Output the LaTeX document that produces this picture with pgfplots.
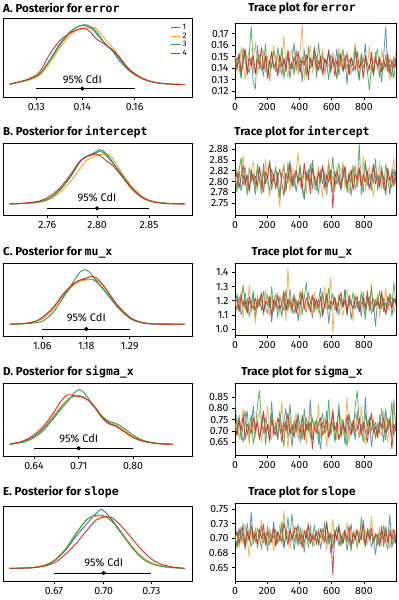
\documentclass[border=0pt]{standalone}
\usepackage{fontspec}
\setmainfont{Fira Sans}
\setmonofont{DejaVu Sans Mono}
\usepackage{pgfplots}
\usepackage{pgfplotstable}
\pgfplotsset{compat=1.18}

\definecolor{c1}{RGB}{44,122,168}
\definecolor{c2}{RGB}{247,160,40}
\definecolor{c3}{RGB}{45,160,60}
\definecolor{c4}{RGB}{220,40,35}

% ---------- trace data (one table per chain) ----------
\pgfplotstableread[row sep=\\]{y\\
0.145\\0.138\\0.152\\0.131\\0.149\\0.157\\0.141\\0.136\\0.150\\0.127\\
0.122\\0.160\\0.139\\0.144\\0.133\\0.151\\0.148\\0.129\\0.155\\0.142\\
0.137\\0.158\\0.146\\0.134\\0.149\\0.140\\0.153\\0.131\\0.147\\0.162\\
0.138\\0.143\\0.150\\0.128\\0.156\\0.141\\0.135\\0.148\\0.144\\0.159\\
0.132\\0.147\\0.139\\0.153\\0.136\\0.145\\0.130\\0.151\\0.149\\0.141\\
0.157\\0.134\\0.146\\0.138\\0.152\\0.126\\0.148\\0.143\\0.137\\0.155\\
0.140\\0.131\\0.150\\0.146\\0.161\\0.135\\0.142\\0.149\\0.133\\0.154\\
0.139\\0.147\\0.128\\0.151\\0.176\\0.137\\0.144\\0.132\\0.150\\0.141\\
}\tAa
\pgfplotstableread[row sep=\\]{y\\
0.152\\0.141\\0.136\\0.158\\0.144\\0.130\\0.149\\0.155\\0.139\\0.147\\
0.163\\0.134\\0.148\\0.142\\0.156\\0.137\\0.151\\0.129\\0.145\\0.160\\
0.140\\0.153\\0.135\\0.147\\0.168\\0.143\\0.132\\0.150\\0.157\\0.138\\
0.146\\0.134\\0.155\\0.178\\0.129\\0.152\\0.148\\0.160\\0.136\\0.144\\
0.151\\0.139\\0.145\\0.157\\0.133\\0.148\\0.142\\0.136\\0.154\\0.147\\
0.130\\0.158\\0.141\\0.149\\0.138\\0.155\\0.143\\0.134\\0.150\\0.162\\
0.137\\0.145\\0.152\\0.131\\0.148\\0.141\\0.159\\0.136\\0.146\\0.153\\
0.140\\0.133\\0.156\\0.145\\0.138\\0.151\\0.129\\0.148\\0.142\\0.155\\
}\tAb
\pgfplotstableread[row sep=\\]{y\\
0.139\\0.150\\0.143\\0.132\\0.158\\0.146\\0.137\\0.153\\0.176\\0.141\\
0.135\\0.148\\0.152\\0.138\\0.144\\0.161\\0.133\\0.147\\0.140\\0.155\\
0.149\\0.136\\0.143\\0.158\\0.131\\0.146\\0.152\\0.139\\0.145\\0.134\\
0.156\\0.142\\0.137\\0.150\\0.147\\0.133\\0.159\\0.140\\0.144\\0.151\\
0.138\\0.162\\0.145\\0.134\\0.149\\0.141\\0.155\\0.136\\0.148\\0.143\\
0.131\\0.152\\0.146\\0.157\\0.139\\0.144\\0.135\\0.150\\0.142\\0.158\\
0.146\\0.129\\0.153\\0.140\\0.148\\0.137\\0.121\\0.143\\0.134\\0.150\\
0.157\\0.132\\0.145\\0.139\\0.152\\0.136\\0.148\\0.144\\0.131\\0.147\\
}\tAc
\pgfplotstableread[row sep=\\]{y\\
0.148\\0.140\\0.153\\0.137\\0.145\\0.156\\0.134\\0.149\\0.142\\0.151\\
0.136\\0.147\\0.143\\0.158\\0.139\\0.150\\0.131\\0.146\\0.154\\0.140\\
0.145\\0.133\\0.152\\0.141\\0.148\\0.137\\0.156\\0.144\\0.139\\0.150\\
0.142\\0.155\\0.136\\0.147\\0.143\\0.152\\0.130\\0.149\\0.141\\0.157\\
0.146\\0.138\\0.151\\0.135\\0.148\\0.144\\0.156\\0.139\\0.150\\0.133\\
0.147\\0.141\\0.153\\0.137\\0.145\\0.152\\0.134\\0.149\\0.143\\0.138\\
0.155\\0.140\\0.146\\0.132\\0.151\\0.144\\0.139\\0.154\\0.136\\0.148\\
0.142\\0.150\\0.137\\0.147\\0.141\\0.153\\0.135\\0.146\\0.140\\0.149\\
}\tAd

\pgfplotstableread[row sep=\\]{y\\
2.812\\2.789\\2.825\\2.778\\2.806\\2.834\\2.795\\2.781\\2.818\\2.801\\
2.770\\2.827\\2.809\\2.786\\2.842\\2.797\\2.815\\2.773\\2.830\\2.804\\
2.791\\2.822\\2.768\\2.811\\2.836\\2.784\\2.805\\2.849\\2.793\\2.817\\
2.776\\2.808\\2.831\\2.790\\2.765\\2.823\\2.799\\2.840\\2.782\\2.813\\
2.804\\2.771\\2.828\\2.795\\2.819\\2.787\\2.845\\2.801\\2.774\\2.826\\
2.793\\2.816\\2.779\\2.838\\2.802\\2.785\\2.821\\2.767\\2.810\\2.833\\
2.788\\2.824\\2.798\\2.775\\2.841\\2.806\\2.783\\2.819\\2.796\\2.852\\
2.780\\2.811\\2.835\\2.792\\2.769\\2.825\\2.803\\2.786\\2.829\\2.797\\
}\tBa
\pgfplotstableread[row sep=\\]{y\\
2.795\\2.831\\2.784\\2.818\\2.862\\2.790\\2.809\\2.773\\2.826\\2.846\\
2.801\\2.779\\2.837\\2.812\\2.788\\2.853\\2.796\\2.766\\2.820\\2.807\\
2.829\\2.785\\2.742\\2.815\\2.842\\2.793\\2.810\\2.777\\2.834\\2.800\\
2.822\\2.869\\2.787\\2.805\\2.838\\2.772\\2.816\\2.794\\2.847\\2.781\\
2.811\\2.836\\2.798\\2.763\\2.824\\2.808\\2.851\\2.789\\2.815\\2.776\\
2.833\\2.792\\2.819\\2.845\\2.785\\2.806\\2.771\\2.828\\2.799\\2.840\\
2.786\\2.817\\2.803\\2.858\\2.779\\2.812\\2.835\\2.794\\2.766\\2.823\\
2.807\\2.845\\2.783\\2.814\\2.797\\2.831\\2.770\\2.818\\2.855\\2.790\\
}\tBb
\pgfplotstableread[row sep=\\]{y\\
2.808\\2.776\\2.826\\2.855\\2.791\\2.814\\2.768\\2.833\\2.799\\2.819\\
2.785\\2.840\\2.803\\2.772\\2.827\\2.794\\2.812\\2.848\\2.781\\2.809\\
2.835\\2.790\\2.762\\2.821\\2.806\\2.775\\2.844\\2.798\\2.816\\2.787\\
2.824\\2.801\\2.839\\2.781\\2.758\\2.813\\2.829\\2.792\\2.850\\2.805\\
2.778\\2.820\\2.797\\2.836\\2.810\\2.769\\2.825\\2.803\\2.857\\2.789\\
2.814\\2.843\\2.786\\2.807\\2.831\\2.774\\2.819\\2.796\\2.838\\2.782\\
2.801\\2.887\\2.769\\2.812\\2.848\\2.791\\2.817\\2.779\\2.834\\2.808\\
2.818\\2.795\\2.822\\2.783\\2.840\\2.806\\2.771\\2.829\\2.800\\2.816\\
}\tBc
\pgfplotstableread[row sep=\\]{y\\
2.799\\2.821\\2.785\\2.810\\2.838\\2.792\\2.816\\2.778\\2.827\\2.804\\
2.813\\2.789\\2.834\\2.801\\2.775\\2.823\\2.807\\2.846\\2.794\\2.818\\
2.783\\2.812\\2.829\\2.796\\2.768\\2.820\\2.805\\2.839\\2.788\\2.815\\
2.826\\2.797\\2.810\\2.781\\2.843\\2.803\\2.819\\2.772\\2.831\\2.808\\
2.791\\2.824\\2.806\\2.837\\2.784\\2.815\\2.798\\2.828\\2.738\\2.811\\
2.822\\2.800\\2.785\\2.814\\2.836\\2.793\\2.809\\2.827\\2.780\\2.817\\
2.804\\2.833\\2.789\\2.816\\2.799\\2.825\\2.782\\2.811\\2.840\\2.795\\
2.812\\2.786\\2.824\\2.807\\2.779\\2.831\\2.801\\2.818\\2.790\\2.826\\
}\tBd

\pgfplotstableread[row sep=\\]{y\\
1.19\\1.14\\1.23\\1.10\\1.17\\1.26\\1.12\\1.20\\1.15\\1.24\\
1.08\\1.18\\1.22\\1.13\\1.27\\1.16\\1.11\\1.21\\1.05\\1.19\\
1.25\\1.14\\1.17\\1.09\\1.23\\1.20\\1.13\\1.28\\1.16\\1.11\\
1.21\\1.06\\1.18\\1.24\\1.15\\1.12\\1.26\\1.19\\1.08\\1.22\\
1.14\\1.20\\1.29\\1.11\\1.17\\1.23\\1.04\\1.18\\1.25\\1.13\\
1.19\\1.10\\1.22\\1.16\\1.28\\1.12\\1.21\\1.07\\1.17\\1.24\\
1.15\\1.20\\1.09\\1.26\\1.13\\1.19\\1.23\\1.11\\1.18\\1.02\\
1.22\\1.16\\1.27\\1.12\\1.19\\1.14\\1.25\\1.09\\1.21\\1.17\\
}\tCa
\pgfplotstableread[row sep=\\]{y\\
1.22\\1.13\\1.17\\1.27\\1.08\\1.20\\1.15\\1.31\\1.11\\1.19\\
1.04\\1.24\\1.16\\1.21\\1.12\\1.28\\1.18\\1.09\\1.23\\1.14\\
1.20\\1.26\\1.11\\1.17\\1.25\\1.06\\1.43\\1.13\\1.22\\1.16\\
1.15\\1.21\\1.08\\1.29\\1.17\\1.12\\1.24\\1.19\\1.10\\1.26\\
1.18\\1.11\\1.23\\1.16\\1.30\\1.14\\1.20\\1.37\\0.97\\1.22\\
1.13\\1.25\\1.17\\1.09\\1.21\\1.28\\1.15\\1.19\\1.06\\1.24\\
1.20\\1.14\\1.27\\1.18\\1.10\\1.23\\1.16\\1.32\\1.12\\1.19\\
1.25\\1.08\\1.21\\1.15\\1.29\\1.13\\1.18\\1.24\\1.11\\1.20\\
}\tCb
\pgfplotstableread[row sep=\\]{y\\
1.16\\1.25\\1.12\\1.20\\1.31\\1.14\\1.22\\1.09\\1.18\\1.27\\
1.13\\1.21\\1.17\\1.26\\1.10\\1.19\\1.24\\1.15\\1.30\\1.12\\
1.20\\1.08\\1.23\\1.17\\1.13\\1.28\\1.16\\1.21\\1.11\\1.25\\
1.18\\1.14\\1.27\\1.10\\1.22\\1.33\\1.15\\1.19\\1.24\\1.12\\
1.21\\1.17\\1.08\\1.26\\1.14\\1.20\\1.29\\1.13\\1.18\\1.23\\
1.11\\1.24\\1.19\\1.15\\1.28\\1.09\\1.22\\1.17\\1.26\\1.14\\
1.20\\1.13\\1.25\\1.18\\1.07\\1.23\\1.16\\1.30\\1.12\\1.21\\
1.17\\1.27\\1.14\\1.22\\1.10\\1.19\\1.25\\1.15\\1.33\\1.18\\
}\tCc
\pgfplotstableread[row sep=\\]{y\\
1.18\\1.21\\1.13\\1.24\\1.16\\1.20\\1.11\\1.23\\1.17\\1.14\\
1.22\\1.15\\1.19\\1.25\\1.12\\1.20\\1.17\\1.23\\1.10\\1.21\\
1.16\\1.24\\1.14\\1.19\\1.27\\1.13\\1.21\\1.18\\1.15\\1.23\\
1.11\\1.20\\1.17\\1.26\\1.14\\1.22\\1.19\\1.12\\1.24\\1.16\\
1.21\\1.15\\1.23\\1.09\\1.18\\1.25\\1.14\\1.20\\1.17\\1.22\\
1.13\\1.19\\1.26\\1.16\\1.21\\1.11\\1.24\\1.18\\1.15\\1.20\\
1.23\\1.12\\1.18\\1.22\\1.15\\1.27\\1.13\\1.19\\1.21\\1.16\\
1.20\\1.14\\1.25\\1.17\\1.11\\1.23\\1.19\\1.15\\1.22\\1.18\\
}\tCd

\pgfplotstableread[row sep=\\]{y\\
0.74\\0.68\\0.77\\0.70\\0.65\\0.73\\0.79\\0.67\\0.72\\0.81\\
0.69\\0.75\\0.66\\0.71\\0.78\\0.64\\0.73\\0.70\\0.83\\0.68\\
0.72\\0.66\\0.76\\0.69\\0.74\\0.80\\0.67\\0.71\\0.63\\0.75\\
0.70\\0.78\\0.65\\0.73\\0.68\\0.76\\0.71\\0.84\\0.66\\0.72\\
0.75\\0.69\\0.62\\0.74\\0.70\\0.79\\0.67\\0.73\\0.77\\0.65\\
0.71\\0.82\\0.68\\0.75\\0.64\\0.72\\0.78\\0.69\\0.74\\0.66\\
0.79\\0.67\\0.73\\0.70\\0.85\\0.68\\0.76\\0.63\\0.71\\0.74\\
0.68\\0.77\\0.72\\0.65\\0.80\\0.70\\0.75\\0.67\\0.84\\0.71\\
}\tDa
\pgfplotstableread[row sep=\\]{y\\
0.70\\0.76\\0.66\\0.73\\0.80\\0.68\\0.71\\0.64\\0.77\\0.72\\
0.67\\0.74\\0.79\\0.65\\0.72\\0.69\\0.81\\0.70\\0.66\\0.75\\
0.73\\0.68\\0.71\\0.83\\0.67\\0.74\\0.62\\0.76\\0.70\\0.72\\
0.78\\0.66\\0.73\\0.69\\0.75\\0.64\\0.71\\0.79\\0.68\\0.74\\
0.70\\0.82\\0.67\\0.72\\0.76\\0.63\\0.74\\0.69\\0.80\\0.71\\
0.66\\0.73\\0.77\\0.68\\0.71\\0.85\\0.65\\0.74\\0.70\\0.78\\
0.72\\0.67\\0.81\\0.70\\0.64\\0.75\\0.69\\0.77\\0.73\\0.66\\
0.74\\0.70\\0.68\\0.79\\0.72\\0.65\\0.76\\0.71\\0.82\\0.69\\
}\tDb
\pgfplotstableread[row sep=\\]{y\\
0.86\\0.70\\0.75\\0.66\\0.73\\0.79\\0.68\\0.72\\0.77\\0.64\\
0.71\\0.81\\0.88\\0.74\\0.69\\0.76\\0.72\\0.65\\0.78\\0.70\\
0.74\\0.67\\0.79\\0.71\\0.63\\0.75\\0.70\\0.82\\0.68\\0.73\\
0.69\\0.77\\0.72\\0.66\\0.80\\0.70\\0.74\\0.67\\0.76\\0.71\\
0.75\\0.64\\0.73\\0.78\\0.69\\0.71\\0.84\\0.68\\0.74\\0.66\\
0.72\\0.79\\0.67\\0.75\\0.70\\0.63\\0.77\\0.73\\0.69\\0.81\\
0.88\\0.74\\0.71\\0.65\\0.78\\0.72\\0.76\\0.70\\0.75\\0.67\\
0.73\\0.69\\0.80\\0.71\\0.66\\0.76\\0.72\\0.83\\0.68\\0.74\\
}\tDc
\pgfplotstableread[row sep=\\]{y\\
0.72\\0.68\\0.75\\0.70\\0.77\\0.66\\0.73\\0.71\\0.69\\0.76\\
0.70\\0.74\\0.67\\0.72\\0.79\\0.69\\0.73\\0.66\\0.75\\0.71\\
0.68\\0.76\\0.72\\0.65\\0.74\\0.70\\0.78\\0.69\\0.73\\0.67\\
0.75\\0.71\\0.69\\0.77\\0.66\\0.73\\0.70\\0.74\\0.62\\0.72\\
0.69\\0.73\\0.76\\0.68\\0.71\\0.75\\0.67\\0.72\\0.79\\0.70\\
0.74\\0.66\\0.71\\0.73\\0.69\\0.77\\0.72\\0.68\\0.75\\0.70\\
0.71\\0.76\\0.68\\0.74\\0.70\\0.65\\0.73\\0.78\\0.69\\0.72\\
0.67\\0.74\\0.71\\0.76\\0.69\\0.72\\0.75\\0.62\\0.73\\0.70\\
}\tDd

\pgfplotstableread[row sep=\\]{y\\
0.705\\0.688\\0.718\\0.694\\0.726\\0.681\\0.709\\0.697\\0.745\\0.690\\
0.713\\0.684\\0.700\\0.722\\0.692\\0.707\\0.678\\0.716\\0.698\\0.729\\
0.687\\0.711\\0.695\\0.719\\0.683\\0.704\\0.736\\0.693\\0.710\\0.680\\
0.702\\0.724\\0.689\\0.708\\0.676\\0.715\\0.696\\0.721\\0.686\\0.706\\
0.694\\0.717\\0.682\\0.703\\0.727\\0.691\\0.712\\0.674\\0.708\\0.699\\
0.720\\0.687\\0.706\\0.693\\0.714\\0.679\\0.701\\0.725\\0.690\\0.709\\
0.683\\0.712\\0.697\\0.731\\0.688\\0.704\\0.716\\0.685\\0.699\\0.672\\
0.708\\0.693\\0.721\\0.686\\0.711\\0.698\\0.741\\0.684\\0.705\\0.695\\
}\tEa
\pgfplotstableread[row sep=\\]{y\\
0.696\\0.715\\0.683\\0.707\\0.690\\0.723\\0.701\\0.668\\0.712\\0.694\\
0.719\\0.687\\0.705\\0.731\\0.693\\0.710\\0.685\\0.716\\0.702\\0.679\\
0.708\\0.695\\0.724\\0.688\\0.748\\0.699\\0.713\\0.682\\0.706\\0.721\\
0.691\\0.711\\0.697\\0.717\\0.684\\0.703\\0.728\\0.692\\0.709\\0.686\\
0.714\\0.689\\0.706\\0.695\\0.720\\0.680\\0.712\\0.698\\0.733\\0.691\\
0.703\\0.718\\0.685\\0.709\\0.696\\0.727\\0.688\\0.711\\0.700\\0.716\\
0.684\\0.707\\0.722\\0.693\\0.714\\0.689\\0.704\\0.738\\0.695\\0.710\\
0.699\\0.720\\0.687\\0.712\\0.692\\0.706\\0.683\\0.717\\0.701\\0.694\\
}\tEb
\pgfplotstableread[row sep=\\]{y\\
0.702\\0.683\\0.714\\0.697\\0.709\\0.690\\0.726\\0.699\\0.686\\0.712\\
0.693\\0.718\\0.704\\0.681\\0.710\\0.696\\0.721\\0.688\\0.707\\0.700\\
0.716\\0.691\\0.703\\0.729\\0.685\\0.712\\0.698\\0.706\\0.742\\0.694\\
0.708\\0.687\\0.719\\0.700\\0.692\\0.713\\0.684\\0.709\\0.697\\0.723\\
0.689\\0.711\\0.701\\0.717\\0.695\\0.730\\0.690\\0.706\\0.682\\0.714\\
0.699\\0.724\\0.688\\0.707\\0.715\\0.693\\0.703\\0.678\\0.711\\0.696\\
0.713\\0.691\\0.736\\0.702\\0.685\\0.718\\0.697\\0.709\\0.692\\0.705\\
0.688\\0.710\\0.699\\0.722\\0.694\\0.681\\0.715\\0.703\\0.691\\0.708\\
}\tEc
\pgfplotstableread[row sep=\\]{y\\
0.698\\0.711\\0.690\\0.719\\0.702\\0.685\\0.713\\0.696\\0.722\\0.700\\
0.707\\0.691\\0.716\\0.699\\0.724\\0.688\\0.710\\0.703\\0.693\\0.718\\
0.686\\0.712\\0.701\\0.694\\0.727\\0.706\\0.689\\0.715\\0.698\\0.709\\
0.720\\0.695\\0.708\\0.684\\0.714\\0.700\\0.723\\0.691\\0.705\\0.697\\
0.712\\0.688\\0.717\\0.703\\0.693\\0.726\\0.699\\0.709\\0.637\\0.714\\
0.696\\0.719\\0.704\\0.690\\0.711\\0.698\\0.721\\0.687\\0.708\\0.701\\
0.715\\0.693\\0.706\\0.724\\0.689\\0.712\\0.700\\0.718\\0.694\\0.707\\
0.703\\0.686\\0.714\\0.697\\0.720\\0.692\\0.709\\0.699\\0.716\\0.690\\
}\tEd

\pgfplotsset{
  base/.style={scale only axis, anchor=south west,
    axis line style={line width=0.9pt}, tick align=outside,
    major tick length=3bp, tick style={black, line width=0.7pt},
    xtick pos=bottom,
    ticklabel style={font=\fontsize{10.5bp}{12bp}\selectfont},
    xticklabel style={yshift=-0.3bp}},
  leftp/.style={base, width=189bp, xmin=10, xmax=577, ytick=\empty,
    every axis plot/.append style={line width=0.9pt, smooth}},
  rightp/.style={base, width=161bp, xmin=0, xmax=999, ytick pos=left,
    xtick={0,200,400,600,800}, xticklabels={0,200,400,600,800},
    every axis plot/.append style={line width=0.8pt, opacity=0.8, line join=miter, miter limit=3}},
  ci/.style={black, line width=0.9pt},
}
\newcommand{\cdi}{\fontsize{11bp}{13bp}\selectfont 95\% CdI}
\newcommand{\ttl}{\fontsize{11.5bp}{13bp}\selectfont\bfseries}

\begin{document}
\begin{tikzpicture}
\useasboundingbox (0,0) rectangle (399bp,-600bp);

% ===== titles =====
\node[anchor=west, inner sep=0pt] at (3bp,-8bp) {\ttl A. Posterior for \texttt{error}};
\node[inner sep=0pt] at (302bp,-8bp) {\ttl Trace plot for \texttt{error}};
\node[anchor=west, inner sep=0pt] at (3bp,-132bp) {\ttl B. Posterior for \texttt{intercept}};
\node[inner sep=0pt] at (302bp,-132bp) {\ttl Trace plot for \texttt{intercept}};
\node[anchor=west, inner sep=0pt] at (3bp,-252bp) {\ttl C. Posterior for \texttt{mu\_x}};
\node[inner sep=0pt] at (302bp,-252bp) {\ttl Trace plot for \texttt{mu\_x}};
\node[anchor=west, inner sep=0pt] at (3bp,-372bp) {\ttl D. Posterior for \texttt{sigma\_x}};
\node[inner sep=0pt] at (302bp,-372bp) {\ttl Trace plot for \texttt{sigma\_x}};
\node[anchor=west, inner sep=0pt] at (3bp,-492bp) {\ttl E. Posterior for \texttt{slope}};
\node[inner sep=0pt] at (302bp,-492bp) {\ttl Trace plot for \texttt{slope}};

% ===== A left =====
\begin{axis}[leftp, at={(3bp,-97bp)}, height=79bp, ymin=-35, ymax=200,
  xtick={110,248,405}, xticklabels={0.13,0.14,0.16},
  legend style={at={(0.985,0.95)}, anchor=north east, draw=none, fill=none,
    font=\fontsize{8bp}{8.5bp}\selectfont, row sep=-2.4bp, inner sep=0pt,
    cells={anchor=west}},
  legend image code/.code={\draw[#1, line width=0.9pt] (0bp,0bp) -- (9bp,0bp);}]
\addplot[c1] coordinates {(30,3)(60,10)(90,18)(120,33)(150,75)(180,122)(210,158)(230,172)(245,178)(260,176)(280,165)(300,142)(320,120)(340,100)(360,72)(390,42)(420,23)(450,12)(480,6)(520,3)(555,2)};
\addplot[c2] coordinates {(30,3)(60,9)(90,16)(120,30)(150,65)(180,110)(210,148)(230,162)(250,168)(270,170)(285,172)(300,158)(320,132)(340,110)(360,82)(390,48)(420,26)(450,13)(480,6)(520,3)(555,2)};
\addplot[c3] coordinates {(30,3)(60,10)(90,18)(120,33)(150,72)(180,118)(210,156)(230,172)(255,180)(270,176)(290,160)(310,132)(330,110)(350,92)(370,65)(390,45)(420,24)(450,12)(480,6)(520,3)(555,2)};
\addplot[c4] coordinates {(30,3)(60,10)(90,20)(120,40)(150,92)(180,132)(200,148)(220,160)(240,168)(255,170)(270,160)(290,138)(310,125)(330,112)(350,95)(370,70)(390,45)(420,24)(450,12)(480,6)(520,3)(555,2)};
\legend{1,2,3,4}
\addplot[ci, forget plot, sharp plot] coordinates {(110,-10)(405,-10)};
\addplot[only marks, mark=*, mark size=1.6pt, black, forget plot] coordinates {(248,-10)};
\node at (axis cs:248,17) {\cdi};
\end{axis}

% ===== A right =====
\begin{axis}[rightp, at={(235bp,-97bp)}, height=74bp, ymin=0.1151, ymax=0.1792,
  ytick={0.12,0.13,0.14,0.15,0.16,0.17}, yticklabels={0.12,0.13,0.14,0.15,0.16,0.17}]
\addplot[c1] table[x expr=\coordindex*12.64, y=y] {\tAa};
\addplot[c2] table[x expr=\coordindex*12.64, y=y] {\tAb};
\addplot[c3] table[x expr=\coordindex*12.64, y=y] {\tAc};
\addplot[c4, opacity=0.9] table[x expr=\coordindex*12.64, y=y] {\tAd};
\end{axis}

% ===== B left =====
\begin{axis}[leftp, at={(3bp,-215bp)}, height=72bp, ymin=-32, ymax=183,
  xtick={143,292,448}, xticklabels={2.76,2.80,2.85}]
\addplot[c1] coordinates {(30,1)(80,3)(120,7)(150,18)(180,42)(210,78)(240,125)(260,143)(280,152)(300,163)(310,160)(325,145)(340,125)(360,95)(380,68)(400,45)(430,20)(460,8)(500,3)(555,1)};
\addplot[c2] coordinates {(30,1)(80,3)(120,6)(150,15)(180,35)(210,65)(240,105)(260,130)(280,142)(300,148)(315,150)(330,148)(345,128)(360,105)(380,75)(400,50)(430,22)(460,9)(500,3)(555,1)};
\addplot[c3] coordinates {(30,1)(80,3)(120,7)(150,18)(180,42)(210,80)(240,128)(260,142)(280,150)(300,158)(310,155)(325,140)(340,122)(360,98)(380,70)(400,45)(430,20)(460,8)(500,3)(555,1)};
\addplot[c4] coordinates {(30,1)(80,4)(120,10)(150,24)(180,48)(210,85)(240,128)(260,142)(280,148)(290,150)(305,143)(320,130)(340,115)(360,92)(380,66)(400,42)(430,18)(460,7)(500,2)(555,1)};
\addplot[ci, sharp plot] coordinates {(143,-12)(448,-12)};
\addplot[only marks, mark=*, mark size=1.6pt, black] coordinates {(292,-12)};
\node at (axis cs:292,20) {\cdi};
\end{axis}

% ===== B right =====
\begin{axis}[rightp, at={(235bp,-215bp)}, height=72bp, ymin=2.723, ymax=2.889,
  ytick={2.75,2.775,2.8,2.825,2.85,2.875}, yticklabels={2.75,2.78,2.80,2.82,2.85,2.88}]
\addplot[c1] table[x expr=\coordindex*12.64, y=y] {\tBa};
\addplot[c2] table[x expr=\coordindex*12.64, y=y] {\tBb};
\addplot[c3] table[x expr=\coordindex*12.64, y=y] {\tBc};
\addplot[c4, opacity=0.9] table[x expr=\coordindex*12.64, y=y] {\tBd};
\end{axis}

% ===== C left =====
\begin{axis}[leftp, at={(3bp,-336bp)}, height=73bp, ymin=-35, ymax=183,
  xtick={128,260,390}, xticklabels={1.06,1.18,1.29}]
\addplot[c1] coordinates {(30,0)(80,3)(110,9)(130,18)(160,45)(190,85)(220,118)(240,130)(260,135)(280,133)(300,118)(320,95)(340,70)(360,45)(390,18)(420,6)(460,1)(555,0)};
\addplot[c2] coordinates {(30,0)(80,3)(110,9)(130,18)(160,45)(190,82)(220,115)(240,128)(260,132)(280,135)(300,125)(320,102)(340,75)(360,48)(390,20)(420,7)(460,2)(555,1)};
\addplot[c3] coordinates {(30,0)(80,2)(110,5)(130,10)(160,35)(190,78)(220,125)(240,155)(255,163)(270,155)(290,130)(310,105)(330,80)(350,55)(375,30)(400,13)(430,4)(460,1)(555,0)};
\addplot[c4] coordinates {(30,0)(80,3)(110,10)(130,22)(160,50)(190,90)(220,120)(240,132)(260,138)(275,143)(290,138)(310,118)(330,90)(350,62)(375,35)(400,15)(430,5)(460,1)(555,0)};
\addplot[ci, sharp plot] coordinates {(128,-14)(390,-14)};
\addplot[only marks, mark=*, mark size=1.6pt, black] coordinates {(260,-14)};
\node at (axis cs:260,20) {\cdi};
\end{axis}

% ===== C right =====
\begin{axis}[rightp, at={(235bp,-335bp)}, height=72bp, ymin=0.96, ymax=1.465,
  ytick={1.0,1.1,1.2,1.3,1.4}, yticklabels={1.0,1.1,1.2,1.3,1.4}]
\addplot[c1] table[x expr=\coordindex*12.64, y=y] {\tCa};
\addplot[c2] table[x expr=\coordindex*12.64, y=y] {\tCb};
\addplot[c3] table[x expr=\coordindex*12.64, y=y] {\tCc};
\addplot[c4, opacity=0.9] table[x expr=\coordindex*12.64, y=y] {\tCd};
\end{axis}

% ===== D left =====
\begin{axis}[leftp, at={(3bp,-456bp)}, height=73bp, ymin=-35, ymax=183,
  xtick={103,237,400}, xticklabels={0.64,0.71,0.80}]
\addplot[c1] coordinates {(30,0)(70,8)(100,22)(130,45)(160,80)(190,118)(210,138)(230,145)(250,142)(270,128)(290,105)(310,78)(330,63)(350,55)(370,42)(400,22)(430,10)(470,3)(520,0)};
\addplot[c2] coordinates {(30,0)(70,9)(100,24)(130,48)(160,84)(190,120)(210,138)(230,142)(250,140)(270,128)(290,108)(310,82)(330,66)(350,58)(370,44)(400,24)(430,11)(470,3)(520,0)};
\addplot[c3] coordinates {(30,0)(70,6)(100,18)(130,40)(160,75)(190,112)(210,135)(225,155)(240,163)(255,152)(270,132)(290,105)(310,80)(330,68)(350,62)(370,50)(400,28)(430,12)(470,3)(520,0)};
\addplot[c4] coordinates {(30,0)(70,10)(100,26)(130,52)(160,92)(185,130)(205,148)(225,145)(245,142)(265,132)(285,110)(305,82)(325,62)(345,55)(370,40)(400,20)(430,9)(470,2)(520,0)};
\addplot[ci, sharp plot] coordinates {(103,-12)(400,-12)};
\addplot[only marks, mark=*, mark size=1.6pt, black] coordinates {(237,-12)};
\node at (axis cs:237,18) {\cdi};
\end{axis}

% ===== D right =====
\begin{axis}[rightp, at={(235bp,-455bp)}, height=72bp, ymin=0.594, ymax=0.912,
  ytick={0.65,0.7,0.75,0.8,0.85}, yticklabels={0.65,0.70,0.75,0.80,0.85}]
\addplot[c1] table[x expr=\coordindex*12.64, y=y] {\tDa};
\addplot[c2] table[x expr=\coordindex*12.64, y=y] {\tDb};
\addplot[c3] table[x expr=\coordindex*12.64, y=y] {\tDc};
\addplot[c4, opacity=0.9] table[x expr=\coordindex*12.64, y=y] {\tDd};
\end{axis}

% ===== E left =====
\begin{axis}[leftp, at={(3bp,-581bp)}, height=75bp, ymin=-38, ymax=187,
  xtick={163,312,455}, xticklabels={0.67,0.70,0.73}]
\addplot[c1] coordinates {(30,0)(100,2)(140,10)(170,27)(200,57)(230,97)(260,132)(280,155)(295,170)(305,177)(320,165)(340,142)(370,102)(400,62)(430,32)(460,14)(500,4)(555,0)};
\addplot[c2] coordinates {(30,0)(100,3)(140,12)(170,30)(200,62)(230,108)(260,145)(280,155)(300,157)(320,152)(340,138)(370,100)(400,62)(430,32)(460,14)(500,4)(555,0)};
\addplot[c3] coordinates {(30,0)(100,2)(140,10)(170,28)(200,60)(230,105)(260,145)(280,157)(300,160)(320,155)(340,138)(370,98)(400,58)(430,28)(460,12)(500,4)(555,0)};
\addplot[c4] coordinates {(30,0)(100,2)(140,8)(170,20)(200,45)(230,75)(260,112)(290,145)(320,155)(340,150)(360,132)(390,98)(420,62)(450,32)(480,14)(520,4)(555,0)};
\addplot[ci, sharp plot] coordinates {(163,-14)(455,-14)};
\addplot[only marks, mark=*, mark size=1.6pt, black] coordinates {(312,-14)};
\node at (axis cs:312,17) {\cdi};
\end{axis}

% ===== E right =====
\begin{axis}[rightp, at={(235bp,-581bp)}, height=78bp, ymin=0.6274, ymax=0.7602,
  ytick={0.65,0.675,0.7,0.725,0.75}, yticklabels={0.65,0.68,0.70,0.73,0.75}]
\addplot[c1] table[x expr=\coordindex*12.64, y=y] {\tEa};
\addplot[c2] table[x expr=\coordindex*12.64, y=y] {\tEb};
\addplot[c3] table[x expr=\coordindex*12.64, y=y] {\tEc};
\addplot[c4, opacity=0.9] table[x expr=\coordindex*12.64, y=y] {\tEd};
\end{axis}
\end{tikzpicture}
\end{document}
